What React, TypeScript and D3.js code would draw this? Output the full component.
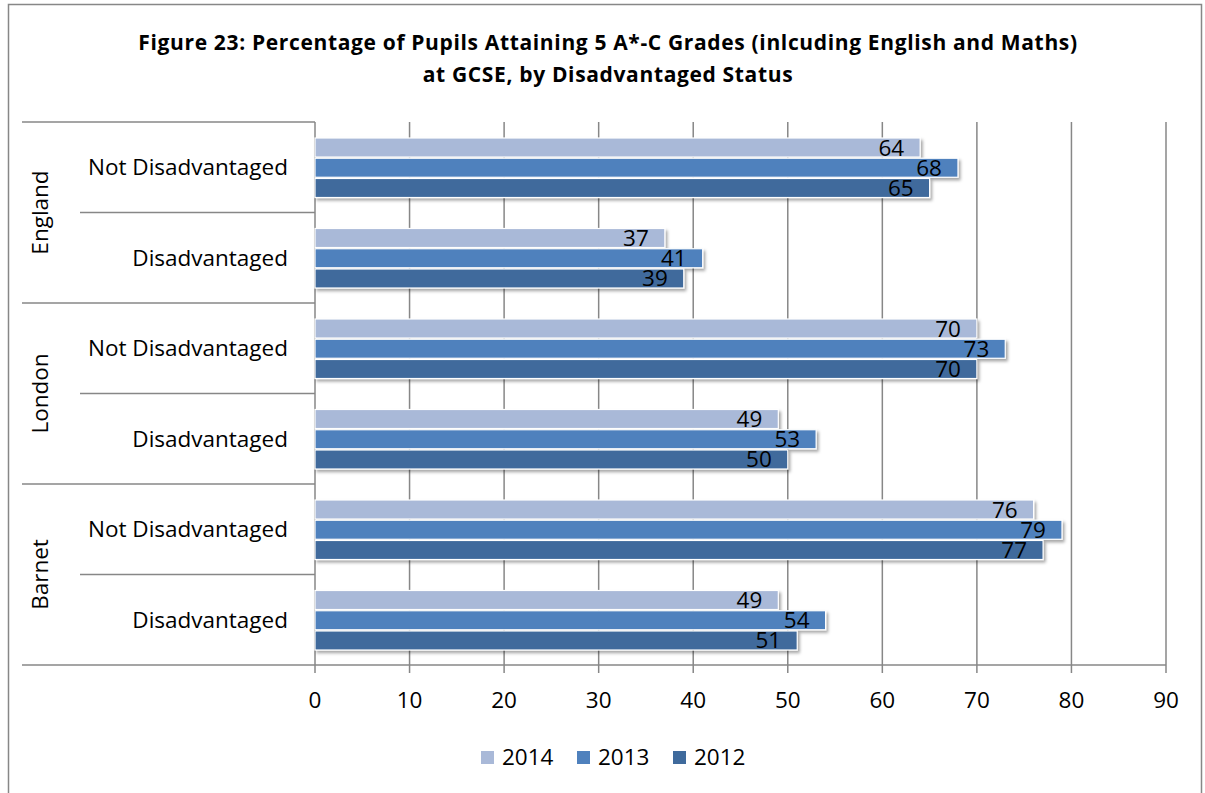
import React from 'react';
import * as d3 from 'd3';

// chart data
const groups = ['England', 'London', 'Barnet'];
const subcats = ['Not Disadvantaged', 'Disadvantaged'];
const series = ['2014', '2013', '2012'];
const values2014 = [64, 37, 70, 49, 76, 49];
const values2013 = [68, 41, 73, 53, 79, 54];
const values2012 = [65, 39, 70, 50, 77, 51];
const xTicks = [0, 10, 20, 30, 40, 50, 60, 70, 80, 90];
const titleLines = [
  'Figure 23: Percentage of Pupils Attaining 5 A*-C Grades (inlcuding English and Maths)',
  'at GCSE, by Disadvantaged Status',
];

const colors: Record<string, string> = { '2014': '#A9B9D8', '2013': '#4F81BD', '2012': '#3F6A9C' };
const seriesValues: Record<string, number[]> = { '2014': values2014, '2013': values2013, '2012': values2012 };

const W = 1205;
const H = 793;
const left = 315;
const right = 1166;
const top = 122;
const bottom = 665;
const font = '"Open Sans", Lato, sans-serif';
const fs = 22.5;
const grid = '#878787';

export default function App() {
  const rows = groups.flatMap((g) => subcats.map((s) => `${g}|${s}`));
  const x = d3.scaleLinear().domain([0, 90]).range([left, right]);
  const y = d3.scaleBand().domain(rows).range([top, bottom]);
  const bw = y.bandwidth();
  const inner = d3.scaleBand().domain(series).range([16, bw - 15]).paddingInner(0.06);
  const gy = d3.scaleBand().domain(groups).range([top, bottom]);

  return (
    <svg width={W} height={H} style={{ position: 'absolute', left: 0, top: 0, background: '#fff' }}>
      <defs>
        <filter id="sh" x="-5%" y="-30%" width="110%" height="180%">
          <feDropShadow dx="2" dy="2.5" stdDeviation="1.6" floodColor="#000" floodOpacity="0.35" />
        </filter>
      </defs>
      <rect x={8.5} y={4.5} width={1193} height={820} fill="#fff" stroke={grid} strokeWidth={1.5} />

      {titleLines.map((t, i) => (
        <text key={i} x={608} y={50 + i * 32} textAnchor="middle" fontFamily={font} fontWeight="bold"
          fontSize={21} letterSpacing={0.65} fill="#000">{t}</text>
      ))}

      {/* gridlines and ticks */}
      {xTicks.map((t) => (
        <line key={t} x1={x(t)} x2={x(t)} y1={t === 0 ? bottom : top} y2={bottom + 8} stroke={grid} strokeWidth={1.5} />
      ))}
      <line x1={left} x2={right} y1={bottom} y2={bottom} stroke={grid} strokeWidth={1.5} />
      <line x1={left} x2={left} y1={top} y2={bottom} stroke={grid} strokeWidth={1.5} />

      {/* category separators */}
      {groups.map((g) => (
        <line key={g} x1={22} x2={left} y1={gy(g)!} y2={gy(g)!} stroke={grid} strokeWidth={1.5} />
      ))}
      <line x1={22} x2={left} y1={bottom} y2={bottom} stroke={grid} strokeWidth={1.5} />
      {groups.map((g) => (
        <line key={g + 'm'} x1={80} x2={left} y1={y(`${g}|${subcats[1]}`)!} y2={y(`${g}|${subcats[1]}`)!}
          stroke={grid} strokeWidth={1.5} />
      ))}

      {/* bars */}
      {rows.map((r, i) =>
        series.map((s) => {
          const v = seriesValues[s][i];
          const by = y(r)! + inner(s)!;
          return (
            <rect key={r + s} x={x(0)} y={by} width={x(v) - x(0)} height={inner.bandwidth()} fill={colors[s]}
              stroke="#fff" strokeWidth={1.2} filter="url(#sh)" />
          );
        })
      )}
      {rows.map((r, i) =>
        series.map((s) => {
          const v = seriesValues[s][i];
          const by = y(r)! + inner(s)!;
          return (
            <text key={r + s + 't'} x={x(v) - 16} y={by + inner.bandwidth() / 2 + 8} textAnchor="end"
              fontFamily={font} fontSize={fs} fill="#000">{v}</text>
          );
        })
      )}

      {/* row labels */}
      {rows.map((r) => (
        <text key={r + 'l'} x={288} y={y(r)! + bw / 2 + 8} textAnchor="end" fontFamily={font} fontSize={fs}
          fill="#000">{r.split('|')[1]}</text>
      ))}
      {groups.map((g) => (
        <text key={g + 'l'} transform={`translate(40,${gy(g)! + gy.bandwidth() / 2}) rotate(-90)`}
          textAnchor="middle" dy="0.35em" fontFamily={font} fontSize={fs} fill="#000">{g}</text>
      ))}

      {/* x tick labels */}
      {xTicks.map((t) => (
        <text key={t + 'x'} x={x(t)} y={708} textAnchor="middle" fontFamily={font} fontSize={fs} fill="#000">{t}</text>
      ))}

      {/* legend */}
      {series.map((s, i) => (
        <g key={s + 'lg'} transform={`translate(481,751)`}>
          <g transform={`translate(${i * 96},0)`}>
            <rect width={13} height={13} fill={colors[s]} />
            <text x={21} y={14} fontFamily={font} fontSize={fs} fill="#000">{s}</text>
          </g>
        </g>
      ))}
    </svg>
  );
}
